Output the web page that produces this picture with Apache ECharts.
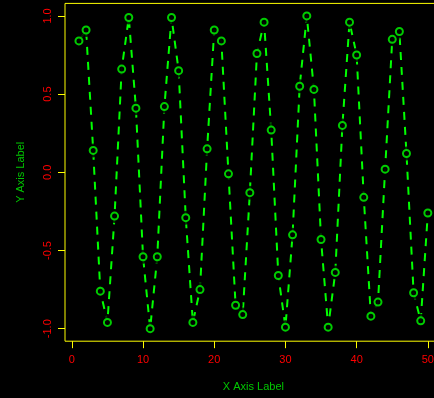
<!DOCTYPE html>
<html><head><meta charset="utf-8">
<script src="https://cdn.jsdelivr.net/npm/echarts@6/dist/echarts.min.js"></script>
<style>html,body{margin:0;padding:0;background:#000;}#c{width:434px;height:398px;}</style>
</head><body><div id="c"></div>
<script>
const xValues = [1,2,3,4,5,6,7,8,9,10,11,12,13,14,15,16,17,18,19,20,21,22,23,24,25,26,27,28,29,30,31,32,33,34,35,36,37,38,39,40,41,42,43,44,45,46,47,48,49,50];
const yValues = [0.84,0.91,0.14,-0.76,-0.96,-0.28,0.66,0.99,0.41,-0.54,-1.00,-0.54,0.42,0.99,0.65,-0.29,-0.96,-0.75,0.15,0.91,0.84,-0.01,-0.85,-0.91,-0.13,0.76,0.96,0.27,-0.66,-0.99,-0.40,0.55,1.00,0.53,-0.43,-0.99,-0.64,0.30,0.96,0.75,-0.16,-0.92,-0.83,0.02,0.85,0.90,0.12,-0.77,-0.95,-0.26];
const xTicks = [0,10,20,30,40,50];
const yTicks = [-1.0,-0.5,0.0,0.5,1.0];
const xTitle = 'X Axis Label';
const yTitle = 'Y Axis Label';

const pts = xValues.map((x,i)=>[x,yValues[i]]);
const chart = echarts.init(document.getElementById('c'), null, {renderer:'canvas'});
chart.setOption({
  backgroundColor:'#000',
  animation:false,
  grid:{left:65,top:3.4,width:376.8,height:337.8,containLabel:false,outerBoundsMode:'none',show:true,borderColor:'#ffff00',borderWidth:1,backgroundColor:'transparent'},
  xAxis:{type:'value',min:-0.96,max:51.96,position:'bottom',
    name:xTitle,nameLocation:'middle',nameGap:40,
    nameTextStyle:{color:'#00c800',fontFamily:'Liberation Sans',fontSize:11},
    axisLine:{show:false,onZero:false},
    axisTick:{show:true,inside:false,length:7,customValues:xTicks,lineStyle:{color:'#ffff00',width:1}},
    axisLabel:{show:true,customValues:xTicks,color:'#ff0000',fontFamily:'Liberation Sans',fontSize:11,margin:13,formatter:v=>String(v)},
    splitLine:{show:false}},
  yAxis:{type:'value',min:-1.08,max:1.08,position:'left',
    name:yTitle,nameLocation:'middle',nameGap:39,nameRotate:90,
    nameTextStyle:{color:'#00c800',fontFamily:'Liberation Sans',fontSize:11},
    axisLine:{show:false,onZero:false},
    axisTick:{show:true,inside:false,length:7,customValues:yTicks,lineStyle:{color:'#ffff00',width:1}},
    axisLabel:{show:true,customValues:yTicks,rotate:90,color:'#ff0000',fontFamily:'Liberation Sans',fontSize:11,margin:12,formatter:v=>v.toFixed(1)},
    splitLine:{show:false}},
  series:[
    {type:'line',data:pts,showSymbol:false,symbol:'none',lineStyle:{color:'#00ff00',width:2,type:[8,7]},z:1},
    {type:'scatter',data:pts,symbol:'circle',symbolSize:14,itemStyle:{color:'#000',borderWidth:0},z:2},
    {type:'scatter',data:pts,symbol:'circle',symbolSize:7,itemStyle:{color:'#000',borderColor:'#00ff00',borderWidth:2},z:3}
  ]
});
</script></body></html>
